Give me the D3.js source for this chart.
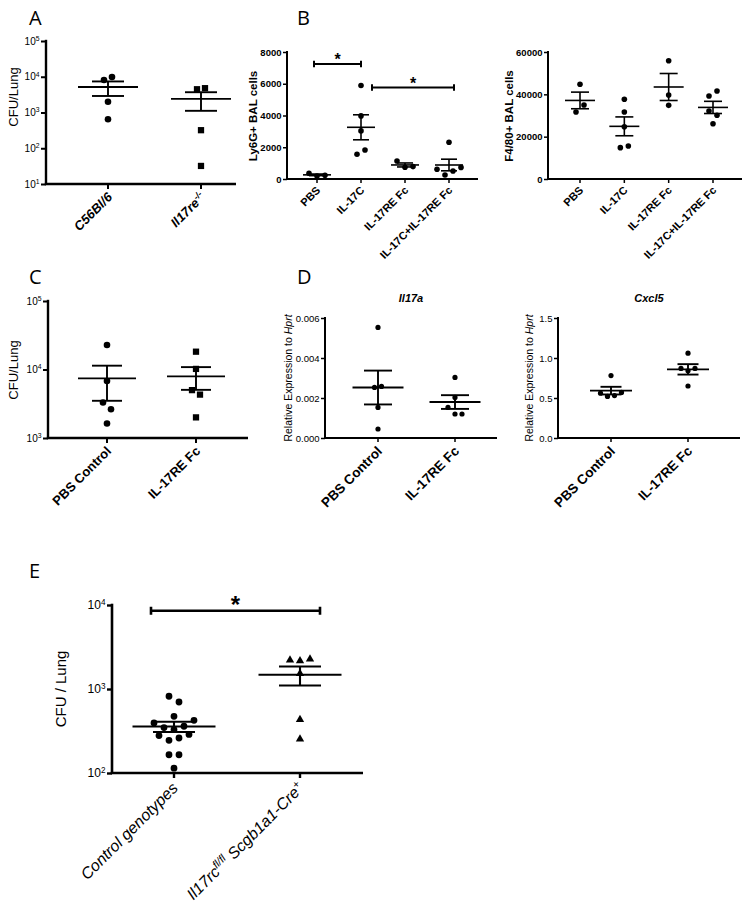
<!DOCTYPE html>
<html>
<head>
<meta charset="utf-8">
<script src="https://cdn.jsdelivr.net/npm/d3@7"></script>
<style>
  body { margin: 0; background: #fff; }
  svg { display: block; font-family: "Liberation Sans", Arial, sans-serif; }
</style>
</head>
<body>
<svg id="fig" width="751" height="915"></svg>
<script>
// ---- data ----
// A: CFU per lung
var aGroups = ['C56Bl/6', 'Il17re^{-/-}'];
var aC56Bl6 = [8130, 9800, 2000, 650];
var aIl17re = [4470, 4790, 320, 32];
var aTicks = [10, 100, 1000, 10000, 100000];

// B: BAL cells
var bGroups = ['PBS', 'IL-17C', 'IL-17RE Fc', 'IL-17C+IL-17RE Fc'];
var bLy6gPBS = [360, 190, 235];
var bLy6gIL17C = [5890, 3975, 3030, 1560, 1830];
var bLy6gREFc = [1135, 740, 780];
var bLy6gCombo = [2315, 610, 250, 505, 730];
var bLy6gTicks = [0, 2000, 4000, 6000, 8000];
var bLy6gSig = [
  {from: 'PBS', to: 'IL-17C', y: 7240},
  {from: 'IL-17C', to: 'IL-17C+IL-17RE Fc', y: 5760}
];
var bF480PBS = [44740, 31650, 34960];
var bF480IL17C = [37650, 31650, 24700, 14800, 15600];
var bF480REFc = [55900, 39700, 34800];
var bF480Combo = [39200, 41600, 32100, 30100, 26100];
var bF480Ticks = [0, 20000, 40000, 60000];

// C: CFU per lung
var cGroups = ['PBS Control', 'IL-17RE Fc'];
var cPBS = [22800, 6800, 3300, 2630, 1630];
var cREFc = [18200, 10200, 5000, 4300, 2000];
var cTicks = [1000, 10000, 100000];

// D: relative expression
var dGroups = ['PBS Control', 'IL-17RE Fc'];
var dIl17aPBS = [0.00553, 0.00253, 0.00258, 0.00153, 0.00045];
var dIl17aREFc = [0.00303, 0.00203, 0.00153, 0.0012, 0.0012];
var dIl17aTicks = [0, 0.002, 0.004, 0.006];
var dCxcl5PBS = [0.78, 0.56, 0.52, 0.53, 0.57];
var dCxcl5REFc = [1.06, 0.87, 0.84, 0.87, 0.65];
var dCxcl5Ticks = [0, 0.5, 1.0, 1.5];

// E: CFU per lung
var eGroups = ['Control genotypes', 'Il17rc^{fl/fl} Scgb1a1-Cre^{+}'];
var eControl = [820, 700, 473, 394, 347, 329, 360, 424, 279, 245, 261, 288, 165, 165, 114];
var eIl17rc = [2210, 2160, 2270, 1530, 433, 254];
var eTicks = [100, 1000, 10000];
var eSig = [{from: 'Control genotypes', to: 'Il17rc^{fl/fl} Scgb1a1-Cre^{+}', y: 8550}];

var svg = d3.select('#fig');

// writes "abc^{sup}def" as tspans
function richText(sel, str) {
  var parts = str.split(/(\^\{[^}]*\})/);
  var raised = false;
  parts.forEach(function(p) {
    if (!p) { return; }
    var t = sel.append('tspan');
    if (p.charAt(0) === '^') {
      t.text(p.slice(2, -1)).attr('font-size', '0.68em').attr('dy', '-0.55em');
      raised = true;
    } else {
      t.text(p);
      if (raised) { t.attr('dy', '0.38em'); raised = false; }
    }
  });
}

function logLabel(v) {
  return '10^{' + Math.round(Math.log10(v)) + '}';
}

// group points that sit at nearly the same height into rows, spread them sideways
function swarmOffsets(values, y, thr, spacing) {
  var idx = d3.range(values.length).sort(function(a, b) {
    return values[a] - values[b];
  });
  var rows = [], cur = null;
  idx.forEach(function(i) {
    var py = y(values[i]);
    if (cur && Math.abs(py - cur.y0) <= thr) {
      cur.m.push(i);
    } else {
      cur = {y0: py, m: [i]};
      rows.push(cur);
    }
  });
  var off = [];
  rows.forEach(function(r) {
    r.m.sort(function(a, b) { return a - b; });
    r.m.forEach(function(i, k) {
      off[i] = (k - (r.m.length - 1) / 2) * spacing;
    });
  });
  return off;
}

function panel(o) {
  var g = svg.append('g');
  var x = d3.scalePoint().domain(o.groups).range(o.cats);
  var y = (o.log ? d3.scaleLog() : d3.scaleLinear())
            .domain(o.domain).range([o.bottom, o.top]);

  // y axis
  var yAxis = d3.axisLeft(y)
    .tickValues(o.ticks)
    .tickSize(o.tickLen)
    .tickSizeOuter(0)
    .tickPadding(1.5)
    .tickFormat(o.log ? function() { return ''; } : d3.format(o.fmt));
  var ya = g.append('g')
    .attr('transform', 'translate(' + o.left + ',0)')
    .call(yAxis);
  ya.select('.domain').attr('stroke', '#000').attr('stroke-width', o.axisW)
    .attr('d', 'M0,' + (o.top - o.axisW / 2) + 'V' + o.bottom);
  ya.selectAll('.tick line').attr('stroke', '#000').attr('stroke-width', o.tickW);
  ya.selectAll('.tick text')
    .attr('fill', '#000')
    .attr('font-size', o.tickFont)
    .attr('font-weight', o.tickBold ? 'bold' : 'normal')
    .attr('font-family', '"Liberation Sans", Arial, sans-serif')
    .each(function(v) {
      if (o.log) { richText(d3.select(this), logLabel(v)); }
    });

  // x axis line with category ticks
  g.append('line')
    .attr('x1', o.left - o.axisW / 2).attr('x2', o.right)
    .attr('y1', o.bottom).attr('y2', o.bottom)
    .attr('stroke', '#000').attr('stroke-width', o.axisW);
  g.selectAll('line.xt')
    .data(o.groups)
    .enter().append('line')
    .attr('class', 'xt')
    .attr('x1', function(d) { return x(d); })
    .attr('x2', function(d) { return x(d); })
    .attr('y1', o.bottom).attr('y2', o.bottom + o.tickLen)
    .attr('stroke', '#000').attr('stroke-width', o.tickW);

  // category labels, rotated
  g.selectAll('text.cat')
    .data(o.groups)
    .enter().append('text')
    .attr('class', 'cat')
    .attr('text-anchor', 'end')
    .attr('font-size', o.catFont)
    .attr('font-weight', o.catBold ? 'bold' : 'normal')
    .attr('font-style', o.catItalic ? 'italic' : 'normal')
    .attr('transform', function(d) {
      return 'translate(' + (x(d) + o.catDx) + ',' +
             (o.bottom + o.catDy) + ') rotate(-45)';
    })
    .each(function(d) { richText(d3.select(this), d); });

  // points
  o.series.forEach(function(vals, gi) {
    var cx = x(o.groups[gi]);
    var off = swarmOffsets(vals, y, o.r * 2 * 1.45, o.spacing);
    var shape = o.shapes[gi];
    var sym = d3.symbol()
      .type(shape === 'square' ? d3.symbolSquare :
            shape === 'triangle' ? d3.symbolTriangle : d3.symbolCircle)
      .size(shape === 'square' ? Math.pow(o.r * 1.9, 2) :
            shape === 'triangle' ? o.r * o.r * 2.6 : Math.PI * o.r * o.r);
    g.selectAll(null)
      .data(vals)
      .enter().append('path')
      .attr('d', sym)
      .attr('transform', function(v, i) {
        return 'translate(' + (cx + off[i]) + ',' + y(v) + ')';
      })
      .attr('fill', '#000');

    // mean with SEM
    var m = d3.mean(vals);
    var se = d3.deviation(vals) / Math.sqrt(vals.length);
    var lines = [
      [cx - o.meanW / 2, y(m), cx + o.meanW / 2, y(m)],
      [cx - o.capW / 2, y(m + se), cx + o.capW / 2, y(m + se)],
      [cx - o.capW / 2, y(m - se), cx + o.capW / 2, y(m - se)],
      [cx, y(m + se), cx, y(m - se)]
    ];
    g.selectAll(null)
      .data(lines)
      .enter().append('line')
      .attr('x1', function(l) { return l[0]; })
      .attr('y1', function(l) { return l[1]; })
      .attr('x2', function(l) { return l[2]; })
      .attr('y2', function(l) { return l[3]; })
      .attr('stroke', '#000')
      .attr('stroke-width', o.lineW);
  });

  // significance bars
  (o.sig || []).forEach(function(s, si) {
    var x1 = x(s.from) + o.sigDx[si][0];
    var x2 = x(s.to) + o.sigDx[si][1];
    var yy = y(s.y);
    var p = 'M' + x1 + ',' + (yy - o.sigCap) + 'V' + (yy + o.sigCap) +
            'M' + x1 + ',' + yy + 'H' + x2 +
            'M' + x2 + ',' + (yy - o.sigCap) + 'V' + (yy + o.sigCap);
    g.append('path').attr('d', p).attr('fill', 'none')
      .attr('stroke', '#000').attr('stroke-width', o.sigW);
    g.append('text')
      .attr('x', (x1 + x2) / 2).attr('y', yy - o.starGap)
      .attr('text-anchor', 'middle')
      .attr('font-size', o.starFont)
      .attr('font-weight', 'bold')
      .text('*');
  });

  // y axis title
  var yt = g.append('text')
    .attr('text-anchor', 'middle')
    .attr('font-size', o.titleFont)
    .attr('font-weight', o.titleBold ? 'bold' : 'normal')
    .attr('transform', 'translate(' + o.titleX + ',' + o.titleY + ') rotate(-90)');
  o.yTitle.forEach(function(t) {
    yt.append('tspan').text(t[0]).attr('font-style', t[1] ? 'italic' : 'normal');
  });

  if (o.head) {
    g.append('text')
      .attr('x', (o.left + o.right) / 2).attr('y', o.headY)
      .attr('text-anchor', 'middle')
      .attr('font-size', 11).attr('font-weight', 'bold')
      .attr('font-style', 'italic')
      .text(o.head);
  }
}

// panel letters
[['A', 29, 25], ['B', 297, 25], ['C', 29, 284], ['D', 297, 284], ['E', 29, 578]]
  .forEach(function(l) {
    svg.append('text').attr('x', l[1]).attr('y', l[2])
      .attr('font-size', 20).attr('font-family', '"Open Sans", sans-serif')
      .text(l[0]);
  });

panel({
  groups: aGroups, series: [aC56Bl6, aIl17re], shapes: ['circle', 'square'],
  log: true, domain: [10, 100000], ticks: aTicks,
  left: 46, right: 236, top: 41, bottom: 184, cats: [108, 201],
  r: 3.3, spacing: 8, meanW: 60, capW: 32, lineW: 1.9,
  axisW: 2.4, tickW: 2, tickLen: 5, tickFont: 10, tickBold: false,
  catFont: 13, catBold: true, catItalic: true, catDx: 5, catDy: 14,
  yTitle: [['CFU/Lung']], titleFont: 13, titleX: 18, titleY: 97
});

panel({
  groups: bGroups, series: [bLy6gPBS, bLy6gIL17C, bLy6gREFc, bLy6gCombo],
  shapes: ['circle', 'circle', 'circle', 'circle'],
  domain: [0, 8000], ticks: bLy6gTicks, fmt: 'd',
  left: 287, right: 478, top: 52, bottom: 179, cats: [317, 449],
  r: 2.8, spacing: 8, meanW: 28, capW: 16, lineW: 1.6,
  axisW: 2, tickW: 1.5, tickLen: 4, tickFont: 9.5, tickBold: true,
  catFont: 11, catBold: true, catDx: 4, catDy: 12,
  sig: bLy6gSig, sigDx: [[-3, 0], [11, 5]], sigCap: 3.3, sigW: 2,
  starFont: 16, starGap: -1,
  yTitle: [['Ly6G+ BAL cells']], titleFont: 11.5, titleBold: true,
  titleX: 257, titleY: 116
});

panel({
  groups: bGroups, series: [bF480PBS, bF480IL17C, bF480REFc, bF480Combo],
  shapes: ['circle', 'circle', 'circle', 'circle'],
  domain: [0, 60000], ticks: bF480Ticks, fmt: 'd',
  left: 548, right: 742, top: 52, bottom: 179, cats: [580, 713],
  r: 2.8, spacing: 8, meanW: 30, capW: 18, lineW: 1.6,
  axisW: 2, tickW: 1.5, tickLen: 4, tickFont: 9.5, tickBold: true,
  catFont: 11, catBold: true, catDx: 4, catDy: 12,
  yTitle: [['F4/80+ BAL cells']], titleFont: 11.5, titleBold: true,
  titleX: 513, titleY: 116
});

panel({
  groups: cGroups, series: [cPBS, cREFc], shapes: ['circle', 'square'],
  log: true, domain: [1000, 100000], ticks: cTicks,
  left: 48, right: 248, top: 301, bottom: 438, cats: [107, 196],
  r: 3.3, spacing: 8, meanW: 58, capW: 30, lineW: 1.9,
  axisW: 2.4, tickW: 2, tickLen: 5, tickFont: 10, tickBold: false,
  catFont: 13, catBold: true, catDx: 5, catDy: 14,
  yTitle: [['CFU/Lung']], titleFont: 13, titleX: 18, titleY: 370
});

panel({
  groups: dGroups, series: [dIl17aPBS, dIl17aREFc], shapes: ['circle', 'circle'],
  domain: [0, 0.006], ticks: dIl17aTicks, fmt: '.3f',
  left: 325, right: 497, top: 318, bottom: 438, cats: [378, 455],
  r: 2.6, spacing: 7, meanW: 51, capW: 28, lineW: 1.9,
  axisW: 2, tickW: 1.5, tickLen: 4, tickFont: 9.5, tickBold: false,
  catFont: 13.5, catBold: true, catDx: 5, catDy: 14,
  head: 'Il17a', headY: 302,
  yTitle: [['Relative Expression to '], ['Hprt', true]], titleFont: 10.5,
  titleX: 292, titleY: 378
});

panel({
  groups: dGroups, series: [dCxcl5PBS, dCxcl5REFc], shapes: ['circle', 'circle'],
  domain: [0, 1.5], ticks: dCxcl5Ticks, fmt: '.1f',
  left: 558, right: 740, top: 318, bottom: 438, cats: [611, 688],
  r: 2.6, spacing: 7, meanW: 42, capW: 21, lineW: 1.9,
  axisW: 2, tickW: 1.5, tickLen: 4, tickFont: 9.5, tickBold: false,
  catFont: 13.5, catBold: true, catDx: 5, catDy: 14,
  head: 'Cxcl5', headY: 302,
  yTitle: [['Relative Expression to '], ['Hprt', true]], titleFont: 10.5,
  titleX: 533, titleY: 378
});

panel({
  groups: eGroups, series: [eControl, eIl17rc], shapes: ['circle', 'triangle'],
  log: true, domain: [100, 10000], ticks: eTicks,
  left: 112, right: 363, top: 605, bottom: 773, cats: [174, 300],
  r: 3.4, spacing: 10, meanW: 83, capW: 42, lineW: 2.1,
  axisW: 2.6, tickW: 2.4, tickLen: 5, tickFont: 12, tickBold: false,
  catFont: 16, catItalic: true, catDx: 5, catDy: 16,
  sig: eSig, sigDx: [[-23, 20]], sigCap: 4, sigW: 2.6,
  starFont: 24, starGap: -2,
  yTitle: [['CFU / Lung']], titleFont: 15, titleX: 66, titleY: 689
});
</script>
</body>
</html>
